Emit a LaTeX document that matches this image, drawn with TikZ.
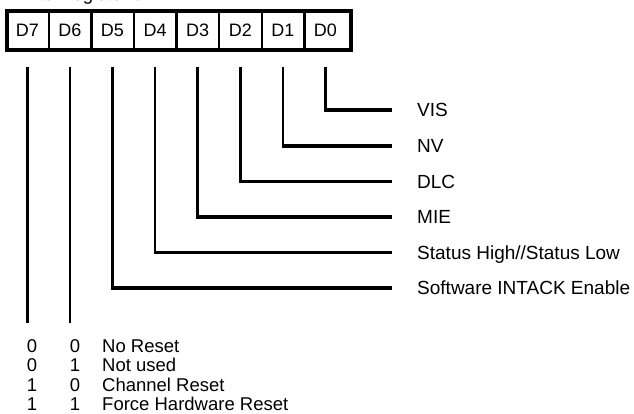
\documentclass[tikz,border=0pt]{standalone}
\usepackage{fontspec}
\setmainfont{Liberation Sans}
\begin{document}
\begin{tikzpicture}[x=1pt,y=-1pt,
  cell/.style={minimum width=42.6pt, minimum height=39pt, inner sep=0pt, font=\fontsize{18}{21}\selectfont},
  lbl/.style={anchor=west, inner sep=0pt, text height=13.6pt, text depth=0pt, font=\fontsize{19}{22}\selectfont},
  tbl/.style={inner sep=0pt, font=\fontsize{18.5}{22}\selectfont},
  vline/.style={line width=2.5pt},
  hline/.style={line width=3.8pt},
  frame/.style={line width=4pt},
  divider/.style={line width=2.5pt}]
\clip (0,0) rectangle (634,413);
% title (cut off at the top edge)
\node[tbl, anchor=base west] (title) at (11,0.5) {Write Register 9};
% register cells
\node[cell] (d7) at (27.3,30.5) {D7\hspace{6.6pt}};
\node[cell] (d6) at (69.9,30.5) {D6\hspace{7pt}};
\node[cell] (d5) at (112.5,30.5) {D5\hspace{7pt}};
\node[cell] (d4) at (155.1,30.5) {D4\hspace{7pt}};
\node[cell] (d3) at (197.7,30.5) {D3\hspace{7pt}};
\node[cell] (d2) at (240.3,30.5) {D2\hspace{7pt}};
\node[cell] (d1) at (282.9,30.5) {D1\hspace{7pt}};
\node[cell] (d0) at (325.5,30.5) {D0\hspace{8pt}};
\foreach \a in {d7,d6,d5,d4,d3,d2,d1}
  \draw[divider] (\a.north east) -- (\a.south east);
\draw[frame] ([xshift=1pt]d7.north west) rectangle ([xshift=3.7pt]d0.south east);
% labels
\node[lbl] (vis) at (417,110) {VIS};
\node[lbl] (nv)  at (417,146) {NV};
\node[lbl] (dlc) at (417,181.5) {DLC};
\node[lbl] (mie) at (417,217) {MIE};
\node[lbl] (sts) at (417,252.5) {Status High//Status Low};
\node[lbl] (swi) at (417,288) {Software INTACK Enable};
% connectors
\foreach \c/\l in {d0/vis,d1/nv,d2/dlc,d3/mie,d4/sts,d5/swi}{
  \draw[vline, shorten <=16.5pt] (\c.south) -- (\c.south |- \l.west);
  \draw[hline] ([xshift=-1.25pt]\c.south |- \l.west) -- ([xshift=-25pt]\l.west);
}
\path (d7.south) ++(0,273) coordinate (e7);
\path (d6.south) ++(0,273) coordinate (e6);
\draw[vline, shorten <=16.5pt] (d7.south) -- (e7);
\draw[vline, shorten <=16.5pt] (d6.south) -- (e6);
% reset table
\node[tbl, anchor=base] (a1) at (32,352) {0};
\node[tbl, anchor=base] (b1) at (75,352) {0};
\node[tbl, anchor=base west] (t1) at (102,352) {No Reset};
\node[tbl, anchor=base] (a2) at (32,371.5) {0};
\node[tbl, anchor=base] (b2) at (75,371.5) {1};
\node[tbl, anchor=base west] (t2) at (102,371.5) {Not used};
\node[tbl, anchor=base] (a3) at (32,391) {1};
\node[tbl, anchor=base] (b3) at (75,391) {0};
\node[tbl, anchor=base west] (t3) at (102,391) {Channel Reset};
\node[tbl, anchor=base] (a4) at (32,410.5) {1};
\node[tbl, anchor=base] (b4) at (75,410.5) {1};
\node[tbl, anchor=base west] (t4) at (102,410.5) {Force Hardware Reset};
\end{tikzpicture}
\end{document}
